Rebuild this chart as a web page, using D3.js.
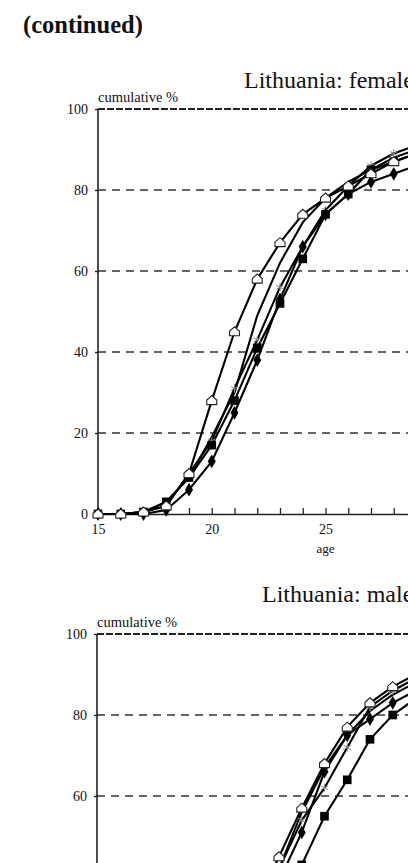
<!DOCTYPE html>
<html>
<head>
<meta charset="utf-8">
<script src="https://cdn.jsdelivr.net/npm/d3@7"></script>
<style>
  body { margin: 0; background: #fff; }
  svg { display: block; }
  text { font-family: "Liberation Serif", "DejaVu Serif", serif; fill: #111; }
</style>
</head>
<body>
<div id="chart"></div>
<script>
// ages on the x axis
var ages = [15,16,17,18,19,20,21,22,23,24,25,26,27,28,29,30,31,32,33,34,35];
var xTickLabels = [15,20,25,30,35];
var yTickLabels = [0,20,40,60,80,100];

// females, cumulative %
var femHouse    = [0,0,0.5,2,10,28,45,58,67,74,78,81,84,87,89,91,93,94,95,96,97];
var femDiamond  = [0,0,0,1,6,13,25,38,53,66,74,79,82,84,86,88,90,91,92,93,94];
var femSquare   = [0,0,0.5,3,9,17,28,41,52,63,74,79,85,87,89,91,92,93,94,95,96];
var femAsterisk = [0,0,0.5,2,10,18,31,43,56,66,75,81,86,89,91,92,93,94,95,96,97];
var femPlain    = [0,0,0.5,3,9,19,30,49,62,72,78,82,85,88,90,92,93,94,95,96,97];

// males, cumulative %
var maleHouse    = [0,0,0.5,2,6,13,22,33,45,57,68,77,83,87,90,92,94,95,96,97,97.5];
var maleDiamond  = [0,0,0,1,4,9,17,27,39,51,66,75,79,83,86,88,90,92,93,94,95];
var maleSquare   = [0,0,0,0.5,2,5,10,18,31,43,55,64,74,80,84,87,89,91,92,93,94];
var maleAsterisk = [0,0,0,1,3,8,16,28,42,54,62,72,82,86,89,91,93,94,95,96,97];
var malePlain    = [0,0,0.5,1,4,10,19,30,42,56,67,75,81,85,88,91,93,94,95,96,97];

var W = 408, H = 863;

var svg = d3.select("#chart").append("svg")
    .attr("width", W)
    .attr("height", H);

svg.append("text")
    .attr("x", 23)
    .attr("y", 33)
    .style("font-size", "24.5px")
    .style("font-weight", "bold")
    .text("(continued)");

var housePath = "M-5,4 L5,4 L5,-0.5 L0,-5 L-5,-0.5 Z";

function drawPanel(opts){
    var x = d3.scaleLinear().domain([15, 45]).range([opts.left, opts.left + 30 * 22.75]);
    var y = d3.scaleLinear().domain([0, 100]).range([opts.bottom, opts.top]);

    var g = svg.append("g");

    svg.append("text")
        .attr("x", opts.titleX)
        .attr("y", opts.titleY)
        .style("font-size", "24px")
        .text(opts.title);

    g.append("text")
        .attr("x", opts.left)
        .attr("y", opts.top - 7)
        .style("font-size", "14.5px")
        .text("cumulative %");

    // dashed gridlines
    g.selectAll(".grid")
        .data(yTickLabels.filter(function(d){ return d > 0; }))
        .enter().append("line")
        .attr("x1", opts.left)
        .attr("x2", W)
        .attr("y1", function(d){ return y(d); })
        .attr("y2", function(d){ return y(d); })
        .attr("stroke", function(d){ return d == 100 ? "#222" : "#333"; })
        .attr("stroke-width", function(d){ return d == 100 ? 1.8 : 1.4; })
        .attr("stroke-dasharray", function(d){ return d == 100 ? "7,2" : "8,6"; });

    var yAxis = d3.axisLeft(y).tickValues(yTickLabels).tickSize(3).tickPadding(7);
    g.append("g")
        .attr("transform", "translate(" + opts.left + ",0)")
        .call(yAxis)
        .call(function(s){
            s.select(".domain").remove();
            s.selectAll("text").style("font-size", "14px").attr("fill", "#111");
            // labels below the picture are not shown
            s.selectAll(".tick").filter(function(d){ return y(d) > H - 8; }).remove();
            s.selectAll(".tick line").attr("stroke", "#222").attr("stroke-width", 1.4);
        });

    g.append("line")
        .attr("x1", opts.left).attr("x2", opts.left)
        .attr("y1", y(100)).attr("y2", y(0))
        .attr("stroke", "#222").attr("stroke-width", 1.6);

    var xAxis = d3.axisBottom(x)
        .tickValues(d3.range(15, 46))
        .tickSize(-6)
        .tickPadding(10)
        .tickFormat(function(d){ return xTickLabels.indexOf(d) >= 0 ? d : ""; });
    g.append("g")
        .attr("transform", "translate(0," + y(0) + ")")
        .call(xAxis)
        .call(function(s){
            s.select(".domain").attr("stroke", "#222").attr("stroke-width", 1.6);
            s.selectAll("text").style("font-size", "14px").attr("fill", "#111");
            // drop empty labels and those past the right edge
            s.selectAll(".tick text").filter(function(d){
                return this.textContent == "" || x(d) > W - 10;
            }).remove();
            s.selectAll(".tick line").attr("stroke", "#222").attr("stroke-width", 1.3);
        });

    g.append("text")
        .attr("x", x(25))
        .attr("y", y(0) + 39)
        .attr("text-anchor", "middle")
        .style("font-size", "13px")
        .text("age");

    var line = d3.line()
        .x(function(d, i){ return x(ages[i]); })
        .y(function(d){ return y(d); });

    opts.series.forEach(function(s){
        g.append("path")
            .datum(s.values)
            .attr("fill", "none")
            .attr("stroke", "#000")
            .attr("stroke-width", 2.1)
            .attr("d", line);
    });

    opts.series.forEach(function(s){
        if(s.marker == "none") return;
        var pts = g.append("g").selectAll("path")
            .data(s.values)
            .enter().append("path")
            .attr("transform", function(d, i){
                return "translate(" + x(ages[i]) + "," + y(d) + ")";
            });
        if(s.marker == "house"){
            pts.attr("d", housePath).attr("fill", "#fff").attr("stroke", "#222").attr("stroke-width", 1.1);
        }
        else if(s.marker == "diamond"){
            pts.attr("d", d3.symbol().type(d3.symbolDiamond).size(55)).attr("fill", "#000");
        }
        else if(s.marker == "square"){
            pts.attr("d", d3.symbol().type(d3.symbolSquare).size(75)).attr("fill", "#000");
        }
        else if(s.marker == "asterisk"){
            pts.attr("d", d3.symbol().type(d3.symbolAsterisk).size(50))
               .attr("fill", "none").attr("stroke", "#888").attr("stroke-width", 1);
        }
    });
}

drawPanel({
    title: "Lithuania: females",
    titleX: 244, titleY: 88,
    left: 98, top: 109, bottom: 514,
    series: [
        {values: femPlain, marker: "none"},
        {values: femAsterisk, marker: "asterisk"},
        {values: femSquare, marker: "square"},
        {values: femDiamond, marker: "diamond"},
        {values: femHouse, marker: "house"}
    ]
});

drawPanel({
    title: "Lithuania: males",
    titleX: 262, titleY: 602,
    left: 97, top: 634, bottom: 1039,
    series: [
        {values: malePlain, marker: "none"},
        {values: maleAsterisk, marker: "asterisk"},
        {values: maleSquare, marker: "square"},
        {values: maleDiamond, marker: "diamond"},
        {values: maleHouse, marker: "house"}
    ]
});
</script>
</body>
</html>
